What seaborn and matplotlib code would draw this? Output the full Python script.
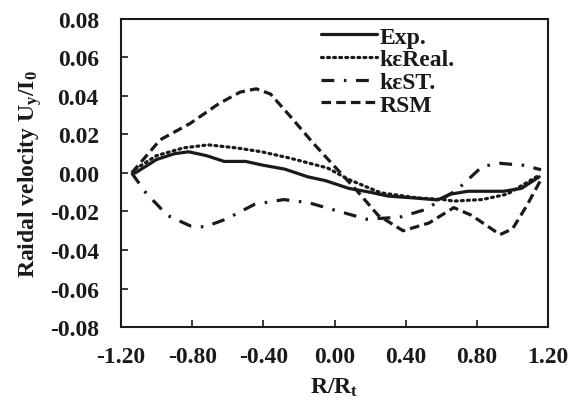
import matplotlib
matplotlib.use("Agg")
import matplotlib.pyplot as plt
import seaborn as sns

# ---------------------------------------------------------------------------
# Data
# ---------------------------------------------------------------------------

exp_x = [-1.12, -1.0, -0.9, -0.82, -0.72, -0.62, -0.5, -0.4, -0.28, -0.15,
         -0.05, 0.08, 0.2, 0.3, 0.45, 0.58, 0.65, 0.75, 0.85, 0.95, 1.05, 1.15]
exp_y = [0.0, 0.007, 0.010, 0.011, 0.009, 0.006, 0.006, 0.004, 0.002, -0.002,
         -0.004, -0.008, -0.010, -0.012, -0.013, -0.014, -0.011, -0.0095,
         -0.0095, -0.0095, -0.008, -0.002]

real_x = [-1.12, -1.0, -0.85, -0.71, -0.55, -0.41, -0.25, -0.04, 0.08, 0.26,
          0.47, 0.61, 0.67, 0.83, 0.97, 1.14]
real_y = [0.002, 0.009, 0.013, 0.0146, 0.013, 0.011, 0.0077, 0.0026, -0.0034,
          -0.0103, -0.013, -0.0138, -0.0146, -0.0138, -0.011, -0.0017]

st_x = [-1.14, -1.06, -0.94, -0.81, -0.73, -0.61, -0.45, -0.285, -0.143, 0.02,
        0.18, 0.365, 0.51, 0.69, 0.83, 0.93, 1.06, 1.16]
st_y = [0.0, -0.0103, -0.022, -0.0275, -0.028, -0.024, -0.0163, -0.0138,
        -0.0155, -0.0198, -0.024, -0.023, -0.019, -0.0086, 0.0034, 0.005,
        0.004, 0.0017]

rsm_x = [-1.14, -0.98, -0.81, -0.65, -0.53, -0.44, -0.36, -0.245, -0.12, 0.0,
         0.12, 0.245, 0.385, 0.53, 0.67, 0.77, 0.93, 1.0, 1.08, 1.16]
rsm_y = [0.0, 0.0172, 0.0258, 0.036, 0.042, 0.0437, 0.041, 0.029, 0.0155,
         0.0034, -0.0086, -0.022, -0.030, -0.026, -0.018, -0.022, -0.032,
         -0.029, -0.017, -0.0034]

x_ticks = [-1.20, -0.80, -0.40, 0.00, 0.40, 0.80, 1.20]
y_ticks = [-0.08, -0.06, -0.04, -0.02, 0.00, 0.02, 0.04, 0.06, 0.08]

# ---------------------------------------------------------------------------
# Plot
# ---------------------------------------------------------------------------

sns.set_style("ticks")
plt.rcParams["font.family"] = ["Liberation Serif", "DejaVu Serif"]
plt.rcParams["font.weight"] = "bold"
plt.rcParams["mathtext.fontset"] = "custom"
plt.rcParams["mathtext.rm"] = "Liberation Serif:bold"
plt.rcParams["mathtext.bf"] = "Liberation Serif:bold"
plt.rcParams["mathtext.it"] = "Liberation Serif:bold"

fig, ax = plt.subplots(figsize=(5.68, 4.06), dpi=100)
fig.subplots_adjust(left=0.213, right=0.965, top=0.951, bottom=0.192)

ink = "#1a1a1a"
lw = 2.3
sns.lineplot(x=exp_x, y=exp_y, ax=ax, color=ink, lw=lw,
             linestyle="-", label="Exp.", sort=False)
sns.lineplot(x=real_x, y=real_y, ax=ax, color=ink, lw=lw,
             linestyle=(0, (0.6, 1.3)), label="k\u03b5Real.", sort=False,
             dash_capstyle="round")
sns.lineplot(x=st_x, y=st_y, ax=ax, color=ink, lw=lw,
             linestyle=(0, (4, 3, 0.8, 3)), label="k\u03b5ST.", sort=False)
sns.lineplot(x=rsm_x, y=rsm_y, ax=ax, color=ink, lw=lw,
             linestyle=(0, (3, 1.6)), label="RSM", sort=False)

ax.set_xlim(-1.2, 1.2)
ax.set_ylim(-0.08, 0.08)
ax.set_xticks(x_ticks)
ax.set_yticks(y_ticks)
ax.set_xticklabels([f"{v:.2f}" for v in x_ticks])
ax.set_yticklabels([f"{v:.2f}" for v in y_ticks])
ax.tick_params(direction="in", length=5, width=1.2, labelsize=17,
               colors=ink)
ax.tick_params(axis="y", pad=16)
ax.tick_params(axis="x", pad=14)
for sp in ax.spines.values():
    sp.set_linewidth(1.5)
    sp.set_color(ink)

ax.set_xlabel("R/R$_\\mathregular{t}$", fontsize=17, fontweight="bold",
              labelpad=6, color=ink)
ax.set_ylabel("Raidal velocity U$_\\mathregular{y}$/I$_\\mathregular{0}$",
              fontsize=17, fontweight="bold", labelpad=4, color=ink)

leg = ax.legend(loc="upper left", bbox_to_anchor=(0.44, 1.015), frameon=False,
                fontsize=17, handlelength=2.4, handletextpad=0.1,
                labelspacing=0.05, borderaxespad=0.1)
for t in leg.get_texts():
    t.set_color(ink)

fig.savefig("out.png", dpi=100)
